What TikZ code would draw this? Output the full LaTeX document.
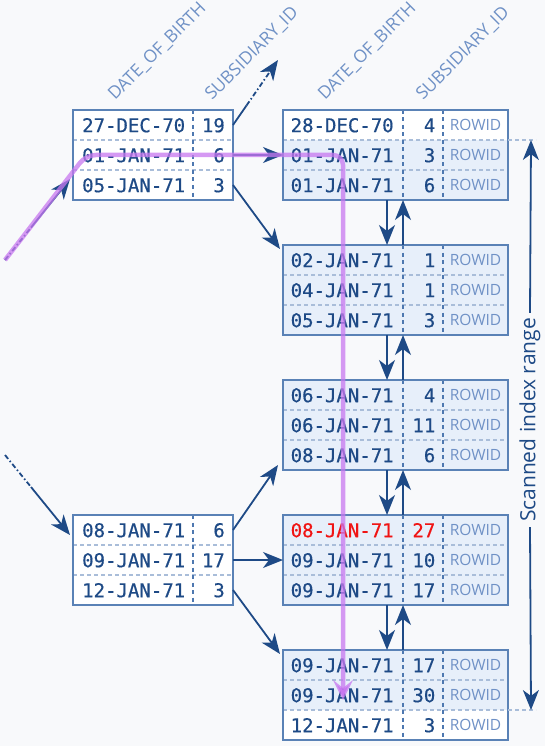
\documentclass[tikz,border=0pt]{standalone}
\usepackage{fontspec}
\setmonofont[FakeBold=0.5]{DejaVu Sans Mono}
\setsansfont{Open Sans}
\usetikzlibrary{arrows.meta,calc}
\definecolor{bgc}{HTML}{F8F9FB}
\definecolor{navy}{HTML}{1E4A86}
\definecolor{frame}{HTML}{5A82B6}
\definecolor{rowdiv}{HTML}{A9BDD9}
\definecolor{coldiv}{HTML}{4E78B0}
\definecolor{lite}{HTML}{6F91C6}
\definecolor{scan}{HTML}{E7EFFA}
\definecolor{hot}{HTML}{F01414}
\definecolor{walkc}{HTML}{C878F0}
\tikzset{
  rowcell/.style={rectangle, draw=none, minimum height=30pt, inner sep=0pt, outer sep=0pt},
  leafrow/.style={rowcell, minimum width=225pt},
  brrow/.style={rowcell, minimum width=160pt, fill=white},
  mono/.style={font=\ttfamily\fontsize{19}{19}\selectfont, text=navy, inner sep=0pt},
  rid/.style={font=\sffamily\fontsize{15.5}{15.5}\selectfont, text=lite, inner sep=0pt},
  hdr/.style={font=\sffamily\fontsize{17.5}{17.5}\selectfont, text=lite, inner sep=0pt, anchor=base west, rotate=45},
  framebox/.style={draw=frame, line width=2pt},
  rowsep/.style={draw=rowdiv, line width=1.5pt, dash pattern=on 4pt off 3pt},
  colsep/.style={draw=coldiv, line width=1.8pt, dash pattern=on 4pt off 3.5pt},
  link/.style={draw=navy, line width=1.8pt},
  arrowhd/.style={-{Stealth[length=20pt,width=16pt,inset=6pt]}},
  fade/.style={dash pattern=on 5pt off 2.5pt on 1.5pt off 2.5pt},
  walk/.style={draw=walkc, draw opacity=0.75, line width=4.5pt, rounded corners=10pt, -{Stealth[length=20pt,width=20pt,inset=8pt]}},
  rangelbl/.style={font=\sffamily\fontsize{21}{21}\selectfont, text=navy, rotate=90, inner sep=5pt},
}
\newcommand{\lrow}[5]{%
  \node[leafrow, fill=#5] (#1) at (395.5,#2) {};
  \node[mono, anchor=base west] (#1d) at ([xshift=7.5pt,yshift=-7.2pt]#1.west) {#3};
  \node[mono, anchor=base east] (#1n) at ([xshift=-72.5pt,yshift=-7.2pt]#1.east) {#4};
  \node[rid, anchor=base] (#1r) at ([xshift=-32.5pt,yshift=-5.8pt]#1.east) {ROWID};
}
\newcommand{\brow}[4]{%
  \node[brrow] (#1) at (153,#2) {};
  \node[mono, anchor=base west] (#1d) at ([xshift=9pt,yshift=-7.2pt]#1.west) {#3};
  \node[mono, anchor=base east] (#1n) at ([xshift=-8pt,yshift=-7.2pt]#1.east) {#4};
}
\newcommand{\leafframe}[3]{%
  \draw[rowsep] (#1.south west) -- (#1.south east);
  \draw[rowsep] (#2.south west) -- (#2.south east);
  \draw[colsep] ([xshift=7.5pt]#1.north) -- ([xshift=7.5pt]#3.south);
  \draw[colsep] ([xshift=-65pt]#1.north east) -- ([xshift=-65pt]#3.south east);
  \draw[framebox] (#1.north west) rectangle (#3.south east);
}
\newcommand{\brframe}[3]{%
  \draw[rowsep] (#1.south west) -- (#1.south east);
  \draw[rowsep] (#2.south west) -- (#2.south east);
  \draw[colsep] ([xshift=-40pt]#1.north east) -- ([xshift=-40pt]#3.south east);
  \draw[framebox] (#1.north west) rectangle (#3.south east);
}
\begin{document}
\begin{tikzpicture}[x=1pt,y=-1pt]
\fill[bgc] (0,0) rectangle (545,746);
\useasboundingbox (0,0) rectangle (545,746);

% branch nodes
\brow{b1r1}{125}{27-DEC-70}{19}
\brow{b1r2}{155}{01-JAN-71}{6}
\brow{b1r3}{185}{05-JAN-71}{3}
\brframe{b1r1}{b1r2}{b1r3}
\brow{b2r1}{530}{08-JAN-71}{6}
\brow{b2r2}{560}{09-JAN-71}{17}
\brow{b2r3}{590}{12-JAN-71}{3}
\brframe{b2r1}{b2r2}{b2r3}

% leaf nodes
\lrow{l1r1}{125}{28-DEC-70}{4}{white}
\lrow{l1r2}{155}{01-JAN-71}{3}{scan}
\lrow{l1r3}{185}{01-JAN-71}{6}{scan}
\leafframe{l1r1}{l1r2}{l1r3}
\lrow{l2r1}{260}{02-JAN-71}{1}{scan}
\lrow{l2r2}{290}{04-JAN-71}{1}{scan}
\lrow{l2r3}{320}{05-JAN-71}{3}{scan}
\leafframe{l2r1}{l2r2}{l2r3}
\lrow{l3r1}{395}{06-JAN-71}{4}{scan}
\lrow{l3r2}{425}{06-JAN-71}{11}{scan}
\lrow{l3r3}{455}{08-JAN-71}{6}{scan}
\leafframe{l3r1}{l3r2}{l3r3}
\lrow{l4r1}{530}{\color{hot}08-JAN-71}{\color{hot}27}{scan}
\lrow{l4r2}{560}{09-JAN-71}{10}{scan}
\lrow{l4r3}{590}{09-JAN-71}{17}{scan}
\leafframe{l4r1}{l4r2}{l4r3}
\lrow{l5r1}{665}{09-JAN-71}{17}{scan}
\lrow{l5r2}{695}{09-JAN-71}{30}{scan}
\lrow{l5r3}{725}{12-JAN-71}{3}{white}
\leafframe{l5r1}{l5r2}{l5r3}

% column headers
\node[hdr] (h1) at ([xshift=42pt,yshift=9pt]b1r1.north west) {DATE\_OF\_BIRTH};
\node[hdr] (h2) at ([xshift=139pt,yshift=9pt]b1r1.north west) {SUBSIDIARY\_ID};
\node[hdr] (h3) at ([xshift=42pt,yshift=9pt]l1r1.north west) {DATE\_OF\_BIRTH};
\node[hdr] (h4) at ([xshift=140pt,yshift=9pt]l1r1.north west) {SUBSIDIARY\_ID};

% leaf chain
\foreach \a/\b in {l1r3/l2r1, l2r3/l3r1, l3r3/l4r1, l4r3/l5r1}{
  \draw[link,arrowhd] ([xshift=-8.5pt]\a.south) -- ([xshift=-8.5pt]\b.north);
  \draw[link,arrowhd] ([xshift=7.5pt]\b.north) -- ([xshift=7.5pt]\a.south);
}

% branch -> leaf links
\coordinate (b1o) at (278,60);
\draw[link] (b1r1.east) -- ($(b1r1.east)!0.3!(b1o)$) coordinate (b1om);
\draw[link,fade,arrowhd] (b1om) -- (b1o);
\draw[link,arrowhd] (b1r2.east) -- (l1r2.west);
\draw[link,arrowhd] (b1r3.east) -- ($(l2r1.north west)+(-3,4)$);
\draw[link,arrowhd] (b2r1.east) -- ($(l3r3.south west)+(-5,-5)$);
\draw[link,arrowhd] (b2r2.east) -- (l4r2.west);
\draw[link,arrowhd] (b2r3.east) -- ($(l5r1.north west)+(-3,4)$);

% incoming links
\coordinate (in1) at (5,260);
\coordinate (in1t) at ($(b1r3.west)+(-3,-6)$);
\draw[link,fade] (in1) -- ($(in1)!0.4!(in1t)$) coordinate (in1m);
\draw[link,arrowhd] (in1m) -- (in1t);
\coordinate (in2) at (5,455);
\coordinate (in2t) at ($(b2r1.west)+(-3,5)$);
\draw[link,fade] (in2) -- ($(in2)!0.4!(in2t)$) coordinate (in2m);
\draw[link,arrowhd] (in2m) -- (in2t);

% scanned range
\coordinate (scanTop) at ($(l1r1.south east)+(23,0)$);
\coordinate (scanBot) at ($(l5r2.south east)+(23,0)$);
\draw[rowsep] (l1r1.south east) -- ($(scanTop)+(5,0)$);
\draw[rowsep] (l5r2.south east) -- ($(scanBot)+(5,0)$);
\node[rangelbl] (rng) at (530,420) {Scanned index range};
\draw[link,arrowhd] (rng.east) -- (scanTop);
\draw[link,arrowhd] (rng.west) -- (scanBot);

% traversal path
\coordinate (pEnd) at ($(l5r2.west)+(60,5)$);
\draw[walk] (in1) -- ($(b1r2.west)+(13,0)$) -- ($(l1r2.west)+(60,0)$) -- (pEnd);
\end{tikzpicture}
\end{document}
